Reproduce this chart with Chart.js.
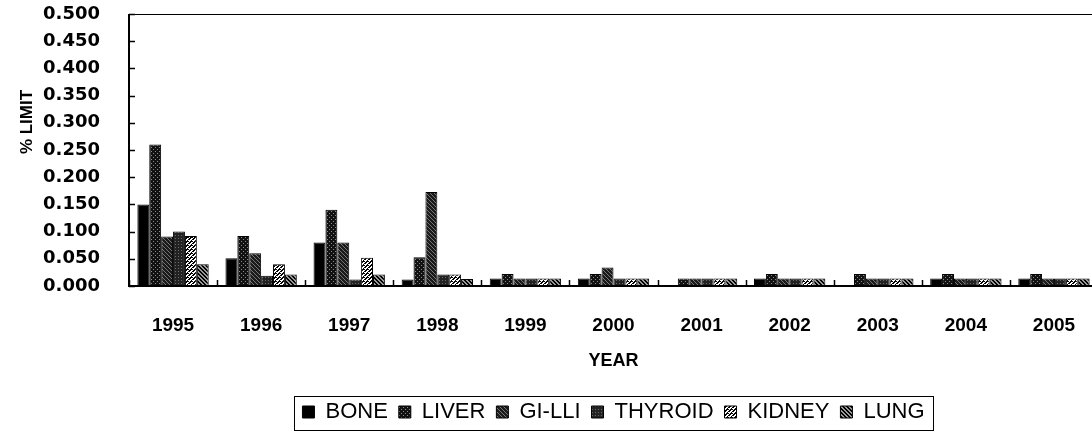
<!DOCTYPE html>
<html><head><meta charset="utf-8">
<script src="https://cdn.jsdelivr.net/npm/chart.js@4/dist/chart.umd.min.js"></script>
<style>
html,body{margin:0;padding:0;background:#fff;overflow:hidden;width:1092px;height:435px}
#wrap{position:absolute;left:0;top:0;width:1100px;height:435px}
</style>
</head><body><div id="wrap"><canvas id="c" width="1100" height="435"></canvas></div>
<script>
const years   = ['1995','1996','1997','1998','1999','2000','2001','2002','2003','2004','2005'];
const bone    = [0.150, 0.051, 0.080, 0.012, 0.014, 0.014, 0.000, 0.014, 0.000, 0.014, 0.014];
const liver   = [0.260, 0.092, 0.140, 0.053, 0.022, 0.022, 0.014, 0.022, 0.022, 0.022, 0.022];
const giLli   = [0.091, 0.060, 0.080, 0.173, 0.014, 0.034, 0.014, 0.014, 0.014, 0.014, 0.014];
const thyroid = [0.100, 0.019, 0.012, 0.021, 0.014, 0.014, 0.014, 0.014, 0.014, 0.014, 0.014];
const kidney  = [0.092, 0.040, 0.052, 0.021, 0.014, 0.014, 0.014, 0.014, 0.014, 0.014, 0.014];
const lung    = [0.040, 0.021, 0.021, 0.013, 0.014, 0.014, 0.014, 0.014, 0.014, 0.014, 0.014];
const seriesNames = ['BONE','LIVER','GI-LLI','THYROID','KIDNEY','LUNG'];
const yTicks = {min: 0, max: 0.5, step: 0.05};
const yTitle = '% LIMIT';
const xTitle = 'YEAR';

function pat(size, draw){
  const c = document.createElement('canvas'); c.width = c.height = size;
  const g = c.getContext('2d'); draw(g, size);
  return g.createPattern(c, 'repeat');
}
const fills = [
  '#000000',
  pat(4, (g,s)=>{ g.fillStyle='#111'; g.fillRect(0,0,s,s); g.fillStyle='#8a8a8a'; g.fillRect(1,1,1,1); g.fillRect(3,3,1,1); }),
  pat(4, (g,s)=>{ g.fillStyle='#1a1a1a'; g.fillRect(0,0,s,s); g.fillStyle='#777'; for(let i=0;i<s;i++){ g.fillRect((i+1)%s, i, 1, 1);} }),
  pat(3, (g,s)=>{ g.fillStyle='#222'; g.fillRect(0,0,s,s); g.fillStyle='#6a6a6a'; g.fillRect(1,1,1,1); }),
  pat(4, (g,s)=>{ g.fillStyle='#fff'; g.fillRect(0,0,s,s); g.fillStyle='#000'; for(let i=0;i<s;i++){ g.fillRect((s-1-i+s)%s, i, 2, 1); g.fillRect((s-i+s)%s - s, i, 2, 1);} }),
  pat(4, (g,s)=>{ g.fillStyle='#999'; g.fillRect(0,0,s,s); g.fillStyle='#000'; for(let i=0;i<s;i++){ g.fillRect(i, i, 2, 1); g.fillRect(i-s, i, 2, 1);} })
];
const values = [bone, liver, giLli, thyroid, kidney, lung];

const decor = {
  id: 'decor',
  afterDatasetsDraw(chart){
    const {ctx, chartArea:a, scales:{x, y}} = chart;
    ctx.save();
    ctx.strokeStyle = '#000';
    ctx.lineWidth = 1;
    ctx.strokeRect(a.left + 0.5, a.top + 0.5, a.right - a.left, a.bottom - a.top);
    ctx.lineWidth = 2;
    ctx.beginPath();
    ctx.moveTo(a.left, a.top); ctx.lineTo(a.left, a.bottom + 1);
    ctx.moveTo(a.left, a.bottom); ctx.lineTo(a.right, a.bottom);
    ctx.stroke();
    ctx.lineWidth = 1.5;
    ctx.beginPath();
    y.ticks.forEach((t, i) => { const py = Math.round(y.getPixelForTick(i)) + 0.5; ctx.moveTo(a.left, py); ctx.lineTo(a.left + 6, py); });
    const step = x.getPixelForValue(1) - x.getPixelForValue(0);
    for (let i = 0; i <= years.length; i++) {
      const px = Math.round(x.getPixelForValue(0) - step / 2 + i * step) + 0.5;
      ctx.moveTo(px, a.bottom); ctx.lineTo(px, a.bottom - 6);
    }
    ctx.stroke();
    ctx.fillStyle = '#000';
    ctx.font = 'bold 17px "Liberation Sans"';
    ctx.textAlign = 'center'; ctx.textBaseline = 'middle';
    ctx.translate(27, 122);
    ctx.rotate(-Math.PI / 2);
    ctx.fillText(yTitle, 0, 0);
    ctx.restore();
  },
  afterDraw(chart){
    const hb = chart.legend && chart.legend.legendHitBoxes;
    if (!hb || !hb.length) return;
    const ctx = chart.ctx;
    const l = hb[0].left - 8, r = hb[hb.length - 1].left + hb[hb.length - 1].width + 9;
    const t = hb[0].top - 5, b = hb[0].top + hb[0].height + 7;
    ctx.save();
    ctx.strokeStyle = '#000'; ctx.lineWidth = 1;
    ctx.strokeRect(Math.round(l) + 0.5, Math.round(t) + 0.5, Math.round(r - l), Math.round(b - t));
    ctx.restore();
  }
};

new Chart(document.getElementById('c'), {
  type: 'bar',
  data: {
    labels: years,
    datasets: seriesNames.map((n, i) => ({
      label: n,
      data: values[i],
      backgroundColor: fills[i],
      borderColor: '#000',
      borderWidth: 1,
      categoryPercentage: 0.81,
      barPercentage: 1.0
    }))
  },
  options: {
    responsive: false,
    animation: false,
    devicePixelRatio: 1,
    layout: { padding: { top: 14, right: 2, bottom: 2, left: 0 } },
    plugins: {
      tooltip: { enabled: false },
      legend: {
        position: 'bottom',
        fullSize: false,
        labels: {
          color: '#000',
          font: { family: 'Liberation Sans', size: 22, weight: 'normal' },
          boxWidth: 12, boxHeight: 12, padding: 11
        }
      }
    },
    scales: {
      x: {
        grid: { display: false, drawTicks: false },
        border: { display: false },
        ticks: { color: '#000', padding: 28, maxRotation: 0, autoSkip: false,
                 font: { family: 'Liberation Sans', size: 19, weight: 'bold' } },
        title: { display: true, text: xTitle, color: '#000',
                 font: { family: 'Liberation Sans', size: 18, weight: 'bold' },
                 padding: { top: 0, bottom: 18 } },
        afterFit(s){ s.height = 104; s.paddingLeft = 0; s.paddingRight = 0; }
      },
      y: {
        min: yTicks.min, max: yTicks.max,
        grid: { display: false, drawTicks: false },
        border: { display: false },
        ticks: { stepSize: yTicks.step, color: '#000', padding: 29,
                 font: { family: 'DejaVu Sans', size: 18, weight: 'bold' },
                 callback: v => Number(v).toFixed(3) },
        title: { display: false },
        afterFit(s){ s.width = 129; s.paddingTop = 2; s.paddingBottom = 2; }
      }
    }
  },
  plugins: [decor]
});
</script>
</body></html>
